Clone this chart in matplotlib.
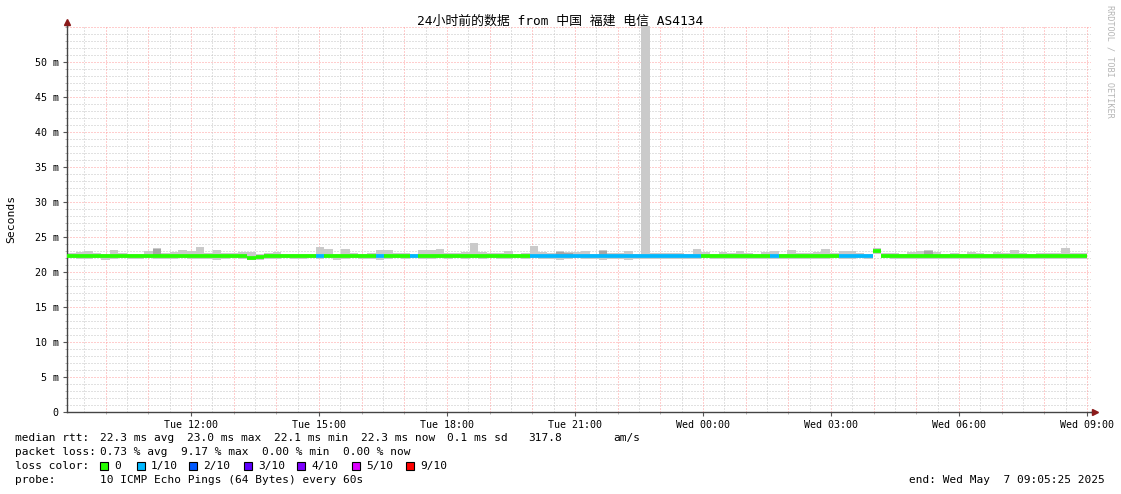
import matplotlib
matplotlib.use("Agg")
import matplotlib.pyplot as plt
from matplotlib.patches import Rectangle
from matplotlib.ticker import MultipleLocator

# smokeping 24h graph, one bar per ~12 min step
hi = [22.7, 22.8, 23.0, 22.7, 22.6, 23.1, 22.7, 22.55, 22.6, 23.0,
      23.4, 22.7, 22.85, 23.1, 23.0, 23.5, 22.7, 23.1, 22.7, 22.7,
      22.9, 22.8, 22.55, 22.7, 22.85, 22.6, 22.6, 22.6, 22.6, 23.55,
      23.3, 22.6, 23.3, 22.7, 22.6, 22.7, 23.1, 23.15, 22.7, 22.7,
      22.6, 23.1, 23.1, 23.3, 22.7, 22.7, 22.8, 24.15, 22.8, 22.7,
      22.7, 23.0, 22.6, 22.7, 23.7, 22.85, 22.7, 23.0, 22.85, 22.85,
      23.0, 22.6, 23.15, 22.7, 22.7, 23.0, 22.6, 60.0, 22.7, 22.7,
      22.7, 22.7, 22.6, 23.3, 22.85, 22.6, 22.85, 22.7, 23.0, 22.7,
      22.6, 22.85, 22.95, 22.6, 23.15, 22.7, 22.7, 22.85, 23.3, 22.7,
      23.0, 23.0, 22.7, 22.6, 23.4, 22.7, 22.7, 22.6, 22.85, 23.0,
      23.15, 22.85, 22.6, 22.7, 22.6, 22.85, 22.7, 22.6, 22.85, 22.7,
      23.15, 22.7, 22.6, 22.7, 22.7, 22.7, 23.4, 22.7, 22.7]
lo = [21.95, 21.85, 21.9, 21.95, 21.7, 21.9, 21.95, 21.9, 21.85, 21.95,
      21.8, 21.9, 21.85, 21.95, 21.9, 21.85, 21.9, 21.75, 21.9, 21.95,
      21.8, 21.75, 21.75, 21.85, 21.9, 21.95, 21.8, 21.9, 21.95, 21.85,
      21.95, 21.75, 21.9, 21.95, 21.9, 21.8, 21.75, 21.9, 21.95, 21.9,
      21.95, 21.9, 21.8, 21.95, 21.9, 21.95, 21.85, 21.95, 21.9, 21.95,
      21.8, 21.9, 21.95, 21.9, 21.95, 21.8, 21.9, 21.75, 21.8, 21.95,
      21.9, 21.8, 21.75, 21.85, 21.9, 21.7, 21.85, 21.85, 21.9, 21.85,
      21.9, 21.8, 21.85, 21.9, 21.95, 21.9, 21.85, 21.8, 21.9, 21.85,
      21.8, 21.9, 21.85, 21.9, 21.85, 21.8, 21.9, 21.85, 21.9, 21.95,
      21.9, 21.85, 21.95, 21.8, 22.55, 21.95, 21.9, 21.85, 21.8, 21.85,
      21.9, 21.85, 21.8, 21.9, 21.85, 21.85, 21.8, 21.9, 21.85, 21.8,
      21.85, 21.9, 21.85, 21.8, 21.9, 21.85, 21.8, 21.9, 21.85]
med = [22.27] * 119
med[21] = 22.05
med[22] = 22.15
med[94] = 23.05
loss = [0] * 119
for i in [29, 36, 40] + list(range(54, 74)) + [82, 90, 91, 92, 93]:
    loss[i] = 1
dark_bins = [10, 57, 58, 62, 100]

loss_colors = ["#26ff00", "#00b8ff", "#0059ff", "#5e00ff", "#7e00ff", "#dd00ff", "#ff0000"]
loss_labels = ["0", "1/10", "2/10", "3/10", "4/10", "5/10", "9/10"]

hour_ticks = [12, 15, 18, 21, 24, 27, 30, 33]
hour_labels = ["Tue 12:00", "Tue 15:00", "Tue 18:00", "Tue 21:00",
               "Wed 00:00", "Wed 03:00", "Wed 06:00", "Wed 09:00"]
y_ticks = [0, 5, 10, 15, 20, 25, 30, 35, 40, 45, 50]
y_labels = ["0"] + ["%d m" % v for v in y_ticks[1:]]

t_start = 9 + 5 / 60 + 25 / 3600
t_data_end = 33.0
t_end = t_start + 24

W, H = 1121, 494
mono = ["DejaVu Sans Mono", "Noto Sans CJK SC"]
plt.rcParams["font.family"] = mono

fig = plt.figure(figsize=(W / 100, H / 100), dpi=100)
ax = fig.add_axes([67 / W, 1 - 412 / H, 1024 / W, 386 / H])
ax.set_xlim(t_start, t_end)
ymax = 386 / 7
ax.set_ylim(0, ymax)

# grid: grey every 1 ms / 30 min, red every 5 ms / 1 h
dot = (0, (1, 2))
for v in range(1, int(ymax) + 1):
    c = "#ff9c9c" if v % 5 == 0 else "#c4c4c4"
    ax.axhline(v, color=c, linestyle=dot, linewidth=0.72, zorder=0)
h = 9.5
while h < t_end:
    c = "#ff9c9c" if h == int(h) else "#c4c4c4"
    ax.axvline(h, color=c, linestyle=dot, linewidth=0.72, zorder=0)
    h += 0.5

n = len(hi)
bw = (t_data_end - t_start) / n
lefts = [t_start + i * bw for i in range(n)]

ax.bar(lefts, [a - b for a, b in zip(hi, lo)], bottom=lo, width=bw, align="edge",
       color="#cacaca", linewidth=0, zorder=2)
for i in dark_bins:
    ax.bar(lefts[i], hi[i] - med[i] - 0.1, bottom=med[i], width=bw, align="edge",
           color="#a6a6a6", linewidth=0, zorder=2)
ax.hlines(med, lefts, [x + bw for x in lefts], colors=[loss_colors[k] for k in loss],
          linewidth=2.7, zorder=3)

ax.set_xticks(hour_ticks)
ax.set_xticklabels(hour_labels)
ax.xaxis.set_minor_locator(MultipleLocator(1))
ax.set_yticks(y_ticks)
ax.set_yticklabels(y_labels)
ax.yaxis.set_minor_locator(MultipleLocator(1))
ax.tick_params(which="major", length=3, width=0.8, color="#555555", labelsize=7.2, pad=3,
               direction="out")
ax.tick_params(which="minor", length=1.5, width=0.5, color="#999999", direction="out")

for s in ["top", "right"]:
    ax.spines[s].set_visible(False)
for s in ["left", "bottom"]:
    ax.spines[s].set_color("#444444")
    ax.spines[s].set_linewidth(1.0)
ax.plot([0, 0], [1, 1.008], color="#444444", lw=1.0, transform=ax.transAxes, clip_on=False)
ax.plot([1, 1.003], [0, 0], color="#444444", lw=1.0, transform=ax.transAxes, clip_on=False)
ax.plot([0], [1.01], marker="^", color="#8b1a1a", markersize=4, transform=ax.transAxes, clip_on=False)
ax.plot([1.004], [0], marker=">", color="#8b1a1a", markersize=4, transform=ax.transAxes, clip_on=False)


def px(x, y):
    return x / W, 1 - y / H


fig.text(*px(560, 21), "24小时前的数据 from 中国 福建 电信 AS4134", ha="center", va="center",
         fontsize=9.3, family=mono)
fig.text(*px(11, 219), "Seconds", rotation=90, ha="center", va="center", fontsize=8.2)
fig.text(*px(1110, 5), "RRDTOOL / TOBI OETIKER", rotation=270, ha="center", va="top",
         fontsize=6.1, color="#b5b5b5")

fs = 8.0
row1 = [(15, "median rtt:"), (100, "22.3 ms avg"), (187, "23.0 ms max"), (274, "22.1 ms min"),
        (361, "22.3 ms now"), (447, "0.1 ms sd"), (528, "317.8"), (613, "am/s")]
for x0, s in row1:
    fig.text(*px(x0, 438), s, ha="left", va="center", fontsize=fs)
fig.text(*px(15, 452), "packet loss:", ha="left", va="center", fontsize=fs)
fig.text(*px(100, 452), "0.73 % avg  9.17 % max  0.00 % min  0.00 % now",
         ha="left", va="center", fontsize=fs)
fig.text(*px(15, 466), "loss color:", ha="left", va="center", fontsize=fs)
sq_x = [100, 137, 189, 244, 297, 352, 406]
for x0, c, lab in zip(sq_x, loss_colors, loss_labels):
    fig.add_artist(Rectangle(px(x0, 470), 8 / W, 8 / H, transform=fig.transFigure,
                             facecolor=c, edgecolor="black", linewidth=0.8))
    fig.text(*px(x0 + 14, 466), lab, ha="left", va="center", fontsize=fs)
fig.text(*px(15, 480), "probe:", ha="left", va="center", fontsize=fs)
fig.text(*px(100, 480), "10 ICMP Echo Pings (64 Bytes) every 60s", ha="left", va="center", fontsize=fs)
fig.text(*px(1105, 480), "end: Wed May  7 09:05:25 2025", ha="right", va="center", fontsize=fs)

fig.savefig("out.png", dpi=100, facecolor="white")
